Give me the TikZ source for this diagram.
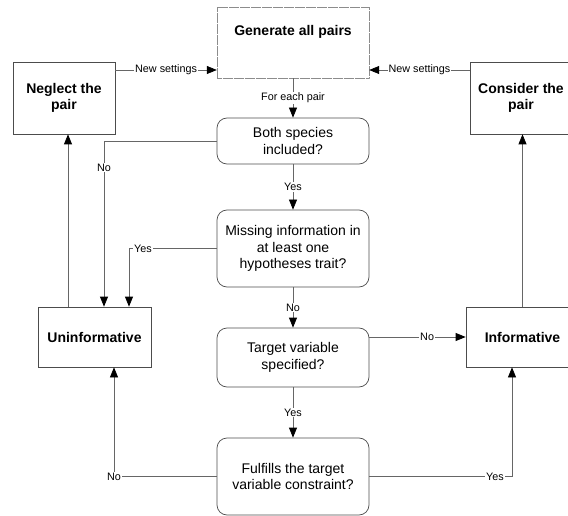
\documentclass[tikz,border=0pt]{standalone}
\usepackage{fontspec}
\setmainfont{Liberation Sans}
\usetikzlibrary{arrows.meta}

\begin{document}
\begin{tikzpicture}[x=1pt, y=-1pt,
	every node/.style={font=\fontsize{14}{16.7}\selectfont},
	genbox/.style={draw=black!45, dash pattern=on 0.5pt off 0.6pt, minimum width=152pt, minimum height=71pt},
	endbox/.style={draw=black!70, line width=0.7pt, align=center, minimum width=102pt, minimum height=72pt, font=\fontsize{14}{16.7}\selectfont\bfseries},
	resbox/.style={draw=black!70, line width=0.7pt, align=center, minimum width=113pt, minimum height=60pt, font=\fontsize{14}{16.7}\selectfont\bfseries},
	qbox/.style={draw=black!70, line width=0.7pt, rounded corners=10pt, align=center, minimum width=152pt},
	lbl/.style={fill=white, inner sep=1pt, font=\fontsize{10.8}{12}\selectfont},
	arr/.style={draw=black!60, line width=0.7pt, -{Triangle[length=10pt, width=8pt, color=black]}}]
	\useasboundingbox (0,0) rectangle (568,516);
	
	\node[genbox] (gen) at (293,42.5) {};
	\node[font=\fontsize{14}{16.7}\selectfont\bfseries] (gentitle) at (293,32) {Generate all pairs};
	
	\node[endbox] (neg) at (64,98) {Neglect the\\pair};
	\node[endbox] (cons) at (521,98) {Consider the\\pair};
	\node[resbox] (uninf) at (94.5,337) {Uninformative};
	\node[resbox] (inf) at (522.5,337) {Informative};
	
	\node[qbox, minimum height=46pt] (both) at (293,141) {Both species\\included?};
	\node[qbox, minimum height=77pt] (miss) at (293,248.5) {Missing information in\\at least one\\hypotheses trait?};
	\node[qbox, minimum height=59pt] (tgt) at (293,357.5) {Target variable\\specified?};
	\node[qbox, minimum height=77pt] (ful) at (293,476.5) {Fulfills the target\\variable constraint?};
	
	\foreach \a/\b/\t in {gen/both/For each pair, both/miss/Yes, miss/tgt/No, tgt/ful/Yes}
		\draw[arr] (\a) -- (\b) node[lbl, midway] {\t};
	
	\draw[arr] ([yshift=28pt]neg.east) -- ([yshift=28pt]neg.east -| gen.west) node[lbl, midway] {New settings};
	\draw[arr] ([yshift=28pt]cons.west) -- ([yshift=28pt]cons.west -| gen.east) node[lbl, midway] {New settings};
	
	\draw[arr] (both.west) -| ([xshift=9.5pt]uninf.north) node[lbl, pos=0.58] {No};
	\draw[arr] (miss.west) -| ([xshift=34.5pt]uninf.north) node[lbl, pos=0.42] {Yes};
	\draw[arr] (ful.west) -| ([xshift=19.5pt]uninf.south) node[lbl, pos=0.5] {No};
	\draw[arr] ([xshift=-26.5pt]uninf.north) -- ([xshift=-26.5pt]uninf.north |- neg.south);
	
	\draw[arr] (tgt.east |- inf.west) -- (inf.west) node[lbl, pos=0.6] {No};
	\draw[arr] (ful.east) -| ([xshift=-10.5pt]inf.south) node[lbl, pos=0.44] {Yes};
	\draw[arr] (inf.north) -- (inf.north |- cons.south);
\end{tikzpicture}
\end{document}
